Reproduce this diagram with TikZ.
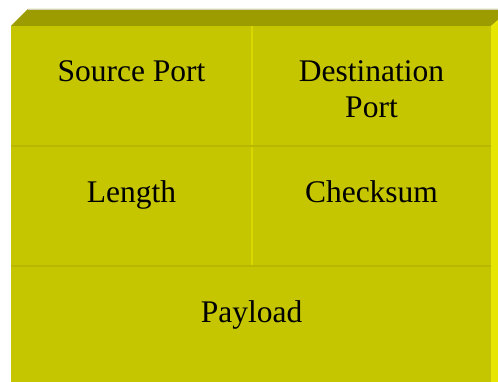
\documentclass[tikz,border=0pt]{standalone}
\usepackage{fontspec}
\setmainfont{Liberation Serif}
\definecolor{frontc}{HTML}{C6C600}
\definecolor{topc}{HTML}{9C9C00}
\definecolor{sidec}{HTML}{E6E600}
\definecolor{vdiv}{HTML}{D8D800}
\definecolor{hdiv}{HTML}{B8B800}
\begin{document}
\begin{tikzpicture}[x=1pt,y=-1pt,
  lbl/.style={font=\fontsize{31.5}{36}\selectfont, text=black, inner sep=0pt, align=center, anchor=base}]
\useasboundingbox (0,0) rectangle (498,382);
\fill[white] (0,0) rectangle (498,382);
% top face
\fill[topc] (11,26) -- (28,9) -- (498,9) -- (498,20) -- (491,26) -- cycle;
\draw[line width=0.8pt, draw={rgb,255:red,210;green,210;blue,190}] (28,9.4) -- (498,9.4);
% right face
\fill[sidec] (491,26) -- (498,20) -- (498,382) -- (491,382) -- cycle;
% front face
\fill[frontc] (11,26) rectangle (491,382);
% dividers
\draw[vdiv, line width=1.5pt] (252,26) -- (252,266);
\draw[hdiv, line width=2pt] (11,146) -- (491,146);
\draw[hdiv, line width=2pt] (11,266) -- (491,266);
% labels
\node[lbl] (src) at (131.5,82) {Source Port};
\node[lbl] (dst) at (371.5,118) {Destination\\Port};
\node[lbl] (len) at (131.5,203) {Length};
\node[lbl] (chk) at (371.5,203) {Checksum};
\node[lbl] (pay) at (251.5,322) {Payload};
\end{tikzpicture}
\end{document}
